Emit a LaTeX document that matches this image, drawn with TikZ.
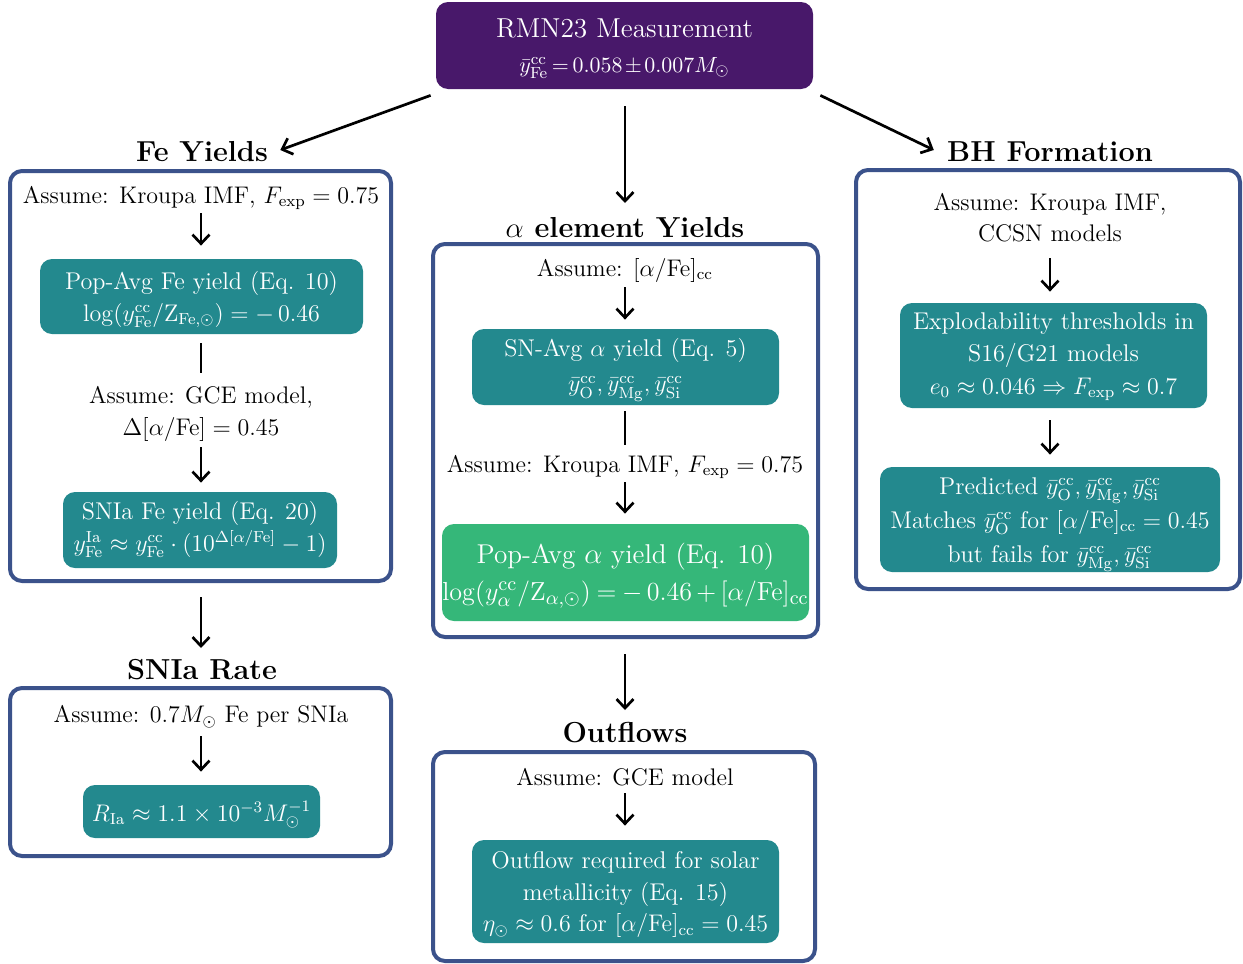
\documentclass[tikz,border=0pt]{standalone}
\usepackage{amsmath}
\usepackage{graphicx}
\usetikzlibrary{arrows.meta}
\definecolor{vpurple}{HTML}{48186A}
\definecolor{vteal}{HTML}{23898E}
\definecolor{vgreen}{HTML}{35B779}
\definecolor{vblue}{HTML}{3B528B}
\tikzset{
  body/.style={font=\fontsize{12}{15.5}\selectfont, align=center, inner sep=0pt},
  head/.style={font=\fontsize{14.45}{17}\selectfont\bfseries, inner sep=0pt},
  panel/.style={draw=vblue, line width=2pt, rounded corners=6pt, inner sep=0pt, fill=white},
  tealbox/.style={fill=vteal, rounded corners=6pt, inner sep=0pt},
  greenbox/.style={fill=vgreen, rounded corners=6pt, inner sep=0pt},
  topbox/.style={fill=vpurple, rounded corners=6pt, inner sep=0pt},
  boxtext/.style={text=white, inner sep=0pt, align=center, yshift=-1.5pt, font=\fontsize{12.1}{16}\selectfont},
  arr/.style={-{Straight Barb[length=4.5pt,width=8.5pt]}, line width=1.35pt},
  plainline/.style={line width=1.35pt},
}
\newcommand{\ymean}[1]{\bar{y}^{\mathrm{cc}}_{\mathrm{#1}}}
\newcommand{\aFe}{[\alpha/\mathrm{Fe}]}
\begin{document}
\begin{tikzpicture}[x=0.5pt,y=-0.5pt]
\useasboundingbox (0,0) rectangle (1243,964);

% top
\node[topbox, minimum width=188.5pt, minimum height=43.5pt] (top) at (624.5,45.5) {};
\node[boxtext, yshift=1.5pt, font=\fontsize{13.7}{18.5}\selectfont] (topT) at (624.5,28) {RMN23 Measurement};
\node[boxtext, font=\fontsize{11.2}{14}\selectfont] (topF) at (624.5,65)
  {\thickmuskip=3mu\medmuskip=2mu $\ymean{Fe} = 0.058 \pm 0.007 M_\odot$};

% ---------- Fe column ----------
\node[head] (FeHead) at (202,152) {Fe Yields};
\node[panel, minimum width=190.5pt, minimum height=205pt] (FeBox) at (200.5,376) {};
\node[body] (FeA) at (201,198) {Assume: Kroupa IMF, $F_{\mathrm{exp}} = 0.75$};
\node[tealbox, minimum width=161.5pt, minimum height=37.5pt] (Fe1) at (201.5,296.5) {};
\node[boxtext] (Fe1t) at (Fe1.center)
  {Pop-Avg Fe yield (Eq. 10)\\ $\log(y^{\mathrm{cc}}_{\mathrm{Fe}}/\mathrm{Z}_{\mathrm{Fe},\odot}) = -\,0.46$};
\node[body, font=\fontsize{12}{16}\selectfont] (FeB) at (201,414) {Assume: GCE model,\\ $\Delta\aFe = 0.45$};
\node[tealbox, minimum width=137pt, minimum height=38pt] (Fe2) at (200,530) {};
\node[boxtext, yshift=2pt] (Fe2t) at (Fe2.center)
  {SNIa Fe yield (Eq. 20)\\ $y^{\mathrm{Ia}}_{\mathrm{Fe}} \approx y^{\mathrm{cc}}_{\mathrm{Fe}}\cdot(10^{\Delta\aFe}-1)$};

\draw[arr] ([yshift=-7.5pt]FeA.center) -- ([yshift=6.5pt]Fe1.north -| FeA.center);
\draw[plainline] ([yshift=-4.5pt]Fe1.south -| FeA.center) -- ([yshift=20.5pt]FeB.center);
\draw[arr] ([yshift=-16.5pt]FeB.center) -- ([yshift=4.5pt]Fe2.north -| FeB.center);

% ---------- SNIa ----------
\node[head] (SnHead) at (202,670) {SNIa Rate};
\node[panel, minimum width=190.5pt, minimum height=84pt] (SnBox) at (200.5,772) {};
\node[body] (SnA) at (201,717) {Assume: $0.7M_\odot$ Fe per SNIa};
\node[tealbox, minimum width=118.5pt, minimum height=26.5pt] (Sn1) at (201.5,811.5) {};
\node[boxtext] (Sn1t) at (Sn1.center) {$R_{\mathrm{Ia}} \approx 1.1\times10^{-3} M_\odot^{-1}$};
\draw[arr] ([yshift=-7pt]FeBox.south -| FeA.center) -- ([yshift=19pt]SnBox.north -| FeA.center);
\draw[arr] ([yshift=-9.5pt]SnA.center) -- ([yshift=6.5pt]Sn1.north -| SnA.center);

% ---------- alpha column ----------
\node[head] (AlHead) at (625,228) {$\alpha$ element Yields};
\node[panel, minimum width=192.5pt, minimum height=196.5pt] (AlBox) at (625.5,440.5) {};
\node[body] (AlA) at (625,270) {Assume: $\aFe_{\mathrm{cc}}$};
\node[tealbox, minimum width=153.5pt, minimum height=38pt] (Al1) at (625.5,367) {};
\node[boxtext, font=\fontsize{12.1}{17.5}\selectfont] (Al1t) at (Al1.center)
  {SN-Avg $\alpha$ yield (Eq. 5)\\ $\ymean{O}, \ymean{Mg}, \ymean{Si}$};
\node[body] (AlB) at (625,467) {Assume: Kroupa IMF, $F_{\mathrm{exp}} = 0.75$};
\node[greenbox, minimum width=183.5pt, minimum height=48.5pt] (Al2) at (625.5,572.5) {};
\node[boxtext, font=\fontsize{13.6}{18.5}\selectfont] (Al2t) at (Al2.center)
  {Pop-Avg $\alpha$ yield (Eq. 10)\\ \scalebox{1.085}{\fontsize{13.15}{18.5}\selectfont\thickmuskip=4mu\medmuskip=3mu $\log(y^{\mathrm{cc}}_{\alpha}/\mathrm{Z}_{\alpha,\odot}) = -\,0.46 + \aFe_{\mathrm{cc}}$}};

\draw[arr] ([yshift=-8.5pt]top.south -| AlA.center) -- ([yshift=19.5pt]AlBox.north -| AlA.center);
\draw[arr] ([yshift=-8.5pt]AlA.center) -- ([yshift=4.5pt]Al1.north -| AlA.center);
\draw[plainline] ([yshift=-3pt]Al1.south -| AlA.center) -- ([yshift=11pt]AlB.center);
\draw[arr] ([yshift=-7.5pt]AlB.center) -- ([yshift=5pt]Al2.north -| AlB.center);

% ---------- Outflows ----------
\node[head] (OutHead) at (625,733) {Outflows};
\node[panel, minimum width=191pt, minimum height=104.5pt] (OutBox) at (624,856.5) {};
\node[body] (OutA) at (625,777) {Assume: GCE model};
\node[tealbox, minimum width=153.5pt, minimum height=51.5pt] (Out1) at (625.5,891.5) {};
\node[boxtext, font=\fontsize{12.1}{15.75}\selectfont] (Out1t) at (Out1.center)
  {Outflow required for solar\\ metallicity (Eq. 15)\\ $\eta_\odot \approx 0.6$ for $\aFe_{\mathrm{cc}} = 0.45$};
\draw[arr] ([yshift=-7.5pt]AlBox.south -| OutA.center) -- ([yshift=20pt]OutBox.north -| OutA.center);
\draw[arr] ([yshift=-8pt]OutA.center) -- ([yshift=7pt]Out1.north -| OutA.center);

% ---------- BH column ----------
\node[head] (BhHead) at (1050,152) {BH Formation};
\node[panel, minimum width=192pt, minimum height=209.5pt] (BhBox) at (1048,379.5) {};
\node[body] (BhA) at (1050,217.5) {Assume: Kroupa IMF,\\ CCSN models};
\node[tealbox, minimum width=153.5pt, minimum height=52.5pt] (Bh1) at (1053.5,355.5) {};
\node[boxtext, yshift=1pt, font=\fontsize{12.1}{16.25}\selectfont] (Bh1t) at (Bh1.center)
  {Explodability thresholds in\\ S16/G21 models\\ $e_0 \approx 0.046 \Rightarrow F_{\mathrm{exp}} \approx 0.7$};
\node[tealbox, minimum width=170pt, minimum height=52.5pt] (Bh2) at (1050,519.5) {};
\node[boxtext, yshift=-1pt, font=\fontsize{12.1}{17}\selectfont] (Bh2t) at (Bh2.center)
  {Predicted $\ymean{O}, \ymean{Mg}, \ymean{Si}$\\ Matches $\ymean{O}$ for $\aFe_{\mathrm{cc}} = 0.45$\\ but fails for $\ymean{Mg}, \ymean{Si}$};
\draw[arr] ([yshift=-20.25pt]BhA.center) -- ([yshift=5.5pt]Bh1.north -| BhA.center);
\draw[arr] ([yshift=-6pt]Bh1.south -| BhA.center) -- ([yshift=6pt]Bh2.north -| BhA.center);

% ---------- diagonal arrows ----------
\draw[arr] ([xshift=-2.5pt,yshift=-3pt]top.south west) -- ([xshift=6pt,yshift=1pt]FeHead.east);
\draw[arr] ([xshift=3.5pt,yshift=-3pt]top.south east) -- ([xshift=-6.5pt,yshift=1pt]BhHead.west);
\end{tikzpicture}
\end{document}
